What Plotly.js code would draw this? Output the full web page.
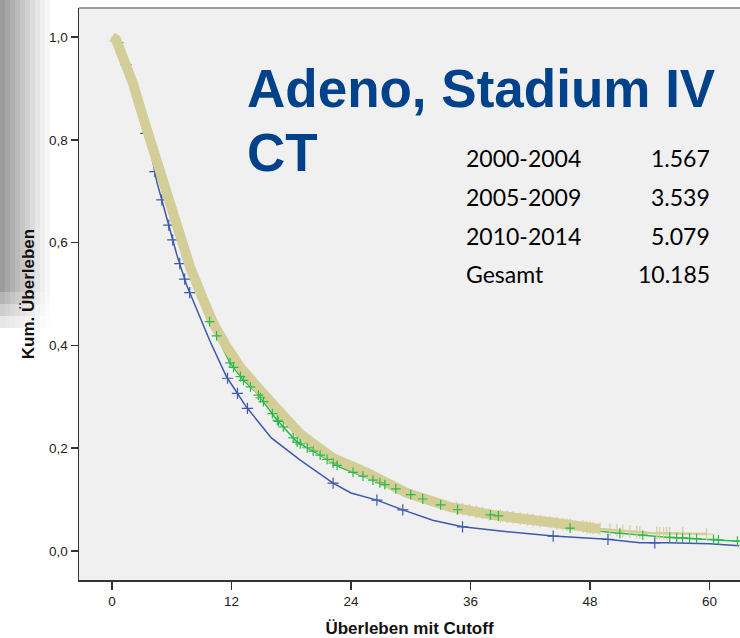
<!DOCTYPE html>
<html>
<head>
<meta charset="utf-8">
<script src="https://cdn.plot.ly/plotly-3.0.1.min.js"></script>
<style>
  html, body { margin: 0; padding: 0; background: #ffffff; }
  #chart { width: 740px; height: 638px; }
</style>
</head>
<body>
<div id="chart"></div>
<script>
// Kaplan-Meier survival, adenocarcinoma stage IV, CT, by diagnosis period

// 2000-2004 (blue)
const monthsA = [0, 0.5, 1, 2, 3, 4, 4.5, 5.5, 6.5, 7.5, 8.5, 9.8, 11.5, 13.5, 16, 18.9, 22.2, 24, 26.6, 29.2, 32.2, 35.2, 39, 44.3, 49.7, 53, 55.7, 60, 63];
const survA   = [1.0, 0.993, 0.972, 0.907, 0.842, 0.768, 0.718, 0.648, 0.577, 0.517, 0.469, 0.41, 0.339, 0.28, 0.22, 0.177, 0.132, 0.113, 0.099, 0.080, 0.060, 0.047, 0.039, 0.029, 0.023, 0.016, 0.016, 0.014, 0.010];
const censA   = [0.6, 1.4, 3.4, 4.3, 5.0, 5.7, 6.1, 6.8, 7.3, 7.8, 11.6, 12.6, 13.6, 22.2, 26.6, 29.2, 35.2, 44.3, 49.8, 54.5];

// 2005-2009 (green)
const monthsB = [0, 1, 2, 3, 4, 5, 6, 7, 8, 9, 9.84, 11.85, 13.15, 14.56, 16.57, 18.58, 20.6, 22.9, 26.2, 30.6, 33.9, 35.6, 37.3, 40.7, 45.7, 50.7, 55.7, 60, 63];
const survB   = [1.0, 0.965, 0.905, 0.84, 0.775, 0.71, 0.65, 0.595, 0.54, 0.49, 0.444, 0.366, 0.333, 0.307, 0.255, 0.212, 0.19, 0.163, 0.138, 0.105, 0.084, 0.076, 0.072, 0.064, 0.045, 0.035, 0.027, 0.023, 0.019];
const censB   = [9.8, 10.5, 11.85, 12.2, 12.9, 13.2, 13.9, 14.7, 14.9, 15.2, 16.1, 16.6, 16.7, 17.2, 18.2, 18.6, 18.9, 19.6, 20.2, 20.9, 21.6, 22.2, 22.6, 24.2, 25.2, 26.2, 26.9, 27.4, 28.5, 30.0, 31.2, 33.0, 34.7, 38.0, 38.8, 46.0, 51.0, 53.3, 56.0, 56.7, 57.3, 58.0, 58.7, 60.4, 60.9, 62.8];

// 2010-2014 (tan)
const monthsC = [0, 0.4, 0.8, 2.1, 3.1, 4.1, 5.1, 6.0, 7.0, 7.83, 9.0, 10.14, 11.5, 12.85, 14.86, 16.87, 18.88, 20.6, 22.2, 25.6, 29.6, 33.9, 38.3, 44, 49, 54, 59.7];
const survC   = [1.0, 0.995, 0.975, 0.91, 0.845, 0.78, 0.716, 0.658, 0.603, 0.553, 0.497, 0.444, 0.398, 0.358, 0.313, 0.272, 0.228, 0.203, 0.181, 0.152, 0.113, 0.086, 0.070, 0.056, 0.043, 0.035, 0.033];
const censC   = [34.6, 35.2, 35.9, 36.6, 37.2, 37.9, 39.0, 39.7, 40.3, 41.0, 41.7, 42.3, 43.0, 44.0, 44.7, 45.3, 45.7, 46.0, 47.3, 47.7, 48.0, 48.3, 49.0, 50.0, 50.7, 51.3, 52.0, 52.7, 53.0, 54.7, 55.0, 55.4, 55.7, 56.0, 57.3, 59.7];

// case counts per period
const periods = ['2000-2004', '2005-2009', '2010-2014', 'Gesamt'];
const counts  = ['1.567', '3.539', '5.079', '10.185'];

const xTicks = [0, 12, 24, 36, 48, 60];
const yTicks = [0, 0.2, 0.4, 0.6, 0.8, 1.0];

const BLUE = '#3e58ac', GREEN = '#2eb848', TAN = '#d3ce97';

// survival value on the curve at time t (censor marks sit on the curve)
function onCurve(xs, ys, t) {
  if (t <= xs[0]) return ys[0];
  for (let i = 1; i < xs.length; i++) {
    if (t <= xs[i]) {
      const f = (t - xs[i - 1]) / (xs[i] - xs[i - 1]);
      return ys[i - 1] + f * (ys[i] - ys[i - 1]);
    }
  }
  return ys[ys.length - 1];
}

function censorTrace(times, xs, ys, color, size) {
  return {
    x: times, y: times.map(t => onCurve(xs, ys, t)),
    mode: 'markers', type: 'scatter', hoverinfo: 'skip', showlegend: false,
    marker: { symbol: 'cross-thin', size: size, color: color, line: { width: 1.2, color: color } }
  };
}

// dense censoring of the 2010-2014 cohort merges into a solid band
const bandEnd = monthsC.findIndex(m => m > 44);
const bandX = monthsC.slice(0, bandEnd + 1);
const bandY = survC.slice(0, bandEnd + 1);

const traces = [
  { x: monthsA, y: survA, mode: 'lines', type: 'scatter', line: { color: BLUE, width: 1.5 }, hoverinfo: 'skip', showlegend: false },
  censorTrace(censA, monthsA, survA, BLUE, 8),
  { x: monthsB, y: survB, mode: 'lines', type: 'scatter', line: { color: GREEN, width: 1.5 }, hoverinfo: 'skip', showlegend: false },
  { x: bandX, y: bandY, mode: 'lines', type: 'scatter', line: { color: TAN, width: 10 }, hoverinfo: 'skip', showlegend: false },
  { x: monthsC, y: survC, mode: 'lines', type: 'scatter', line: { color: TAN, width: 2.5 }, hoverinfo: 'skip', showlegend: false },
  censorTrace(censC, monthsC, survC, TAN, 9),
  censorTrace(censB, monthsB, survB, GREEN, 7)
];

// plot-area geometry in page pixels
const PL = 79, PR = 740, PT = 8, PB = 580;
const px = x => (x - PL) / (PR - PL);
const py = y => (PB - y) / (PB - PT);

// shaded slide edge on the left
const shapes = [];
const greys = [156, 166, 176, 187, 198, 209, 220, 230, 239, 247];
const fade = [[0, 292, 1], [292, 304, 0.75], [304, 316, 0.5], [316, 328, 0.25]];
greys.forEach((g, i) => {
  fade.forEach(([y0, y1, k]) => {
    const v = Math.round(255 - (255 - g) * k);
    shapes.push({
      type: 'rect', xref: 'paper', yref: 'paper', layer: 'below',
      x0: px(i * 5), x1: px(i * 5 + 5), y0: py(y1), y1: py(y0),
      line: { width: 0 }, fillcolor: `rgb(${v},${v},${v})`
    });
  });
});
// top frame line
shapes.push({ type: 'line', xref: 'paper', yref: 'paper', x0: 0, x1: 1, y0: 1, y1: 1, line: { color: '#9a9a9a', width: 2 } });

const annotations = [
  { text: 'Adeno, Stadium IV', x: px(245), y: py(89), xanchor: 'left', yanchor: 'middle' },
  { text: 'CT', x: px(245), y: py(152), xanchor: 'left', yanchor: 'middle' }
].map(a => Object.assign(a, {
  xref: 'paper', yref: 'paper', showarrow: false,
  font: { family: 'Liberation Sans, Arial, sans-serif', size: 53, color: '#00428a', weight: 'bold' }
}));

const rowMid = [158, 197, 236, 274];
periods.forEach((p, i) => {
  annotations.push({ text: p, x: px(464), y: py(rowMid[i]), xanchor: 'left', yanchor: 'middle',
    xref: 'paper', yref: 'paper', showarrow: false,
    font: { family: 'Lato, Open Sans, sans-serif', size: 23, color: '#000000' } });
  annotations.push({ text: counts[i], x: px(712), y: py(rowMid[i]), xanchor: 'right', yanchor: 'middle',
    xref: 'paper', yref: 'paper', showarrow: false,
    font: { family: 'Lato, Open Sans, sans-serif', size: 23, color: '#000000' } });
});

const tickFont = { family: 'Liberation Sans, Arial, sans-serif', size: 13.5, color: '#222222' };
const titleFont = { family: 'Liberation Sans, Arial, sans-serif', size: 17, color: '#111111', weight: 'bold' };

const layout = {
  width: 740, height: 638,
  margin: { l: PL, r: 740 - PR, t: PT, b: 638 - PB },
  paper_bgcolor: '#ffffff', plot_bgcolor: '#f0f0f0',
  separators: ',.',
  showlegend: false,
  xaxis: {
    range: [-3.314, 63.06], tickvals: xTicks, tickformat: 'd',
    ticks: 'outside', ticklen: 8, tickwidth: 1.5, tickcolor: '#333333',
    showline: true, linecolor: '#333333', linewidth: 1.5,
    showgrid: false, zeroline: false, tickfont: tickFont,
    title: { text: 'Überleben mit Cutoff', font: titleFont, standoff: 14 }
  },
  yaxis: {
    range: [-0.0564, 1.0564], tickvals: yTicks, tickformat: '.1f',
    ticks: 'outside', ticklen: 7, tickwidth: 1.5, tickcolor: '#333333',
    showline: true, linecolor: '#333333', linewidth: 1.5,
    showgrid: false, zeroline: false, tickfont: tickFont,
    title: { text: 'Kum. Überleben', font: titleFont, standoff: 10 }
  },
  shapes: shapes,
  annotations: annotations
};

Plotly.newPlot('chart', traces, layout, { displayModeBar: false, staticPlot: true });
</script>
</body>
</html>
